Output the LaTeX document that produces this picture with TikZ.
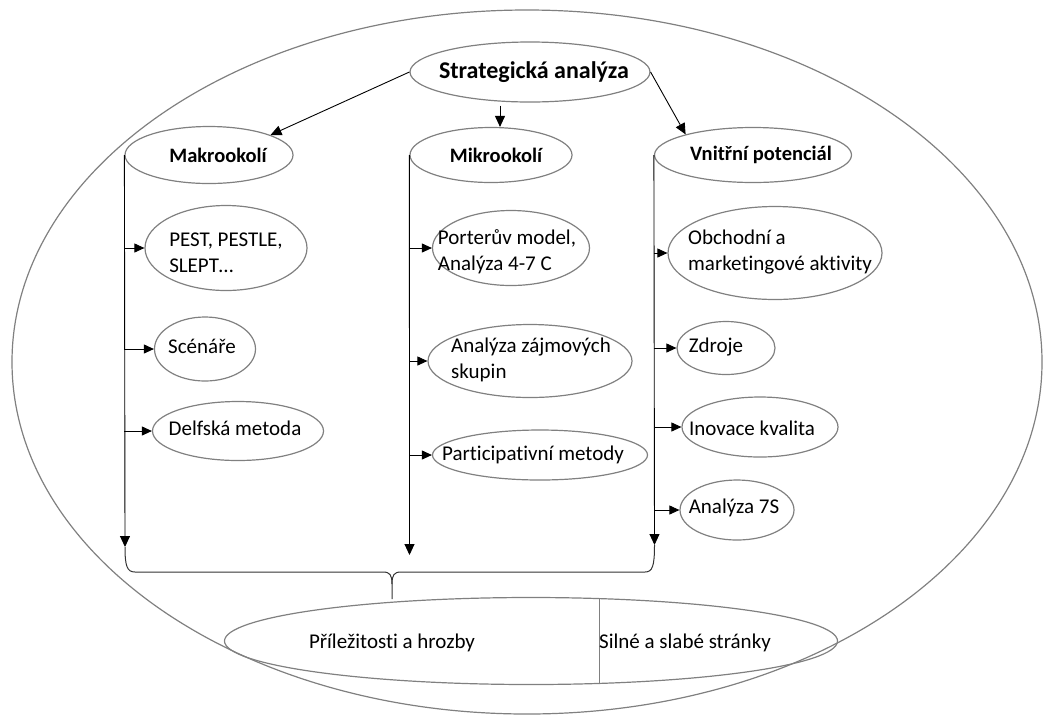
\documentclass[tikz,border=0pt]{standalone}
\usepackage{fontspec}
\setmainfont{Carlito}[Ligatures={NoCommon}]
\usetikzlibrary{shapes.geometric,arrows.meta}
\begin{document}
\begin{tikzpicture}[x=1pt,y=-1pt,
  shp/.style={ellipse, draw=black!50, line width=1.2pt, inner sep=0pt},
  txt/.style={inner sep=0pt, align=left, font=\fontsize{21}{26}\selectfont},
  hdt/.style={txt, font=\fontsize{20.5}{25}\selectfont\bfseries},
  arr/.style={draw=black, line width=0.9pt, -{Triangle[length=11pt,width=10pt]}},
  sarr/.style={draw=black, line width=0.9pt, -{Triangle[length=10pt,width=9pt]}},
  bracel/.style={draw=black!80, line width=1pt}
]
\useasboundingbox (0,0) rectangle (1043,716);
% outer ellipse
\node[shp, minimum width=1030pt, minimum height=704pt] (outer) at (527,362) {};
% top
\node[shp, minimum width=240pt, minimum height=60pt] (strat) at (530,72) {};
\node[txt, font=\fontsize{24}{29}\selectfont\bfseries] (stratt) at (534,72) {Strategická analýza};
% headers
\node[shp, minimum width=168pt, minimum height=57pt] (mak) at (209,155) {};
\node[hdt] (makt) at (218,155) {Makrookolí};
\node[shp, minimum width=162pt, minimum height=55pt] (mik) at (491,155) {};
\node[hdt] (mikt) at (496,155) {Mikrookolí};
\node[shp, minimum width=197pt, minimum height=55pt] (vnit) at (753,155) {};
\node[hdt] (vnitt) at (761,155) {Vnitřní potenciál};
% makro children
\node[shp, minimum width=162pt, minimum height=85pt] (pest) at (226,248) {};
\node[txt] (pestt) at (226,253) {PEST, PESTLE,\\SLEPT…};
\node[shp, minimum width=101pt, minimum height=64pt] (scen) at (205,349) {};
\node[txt] (scent) at (202,346) {Scénáře};
\node[shp, minimum width=171pt, minimum height=59pt] (delf) at (238,431) {};
\node[txt] (delft) at (235,428) {Delfská metoda};
% mikro children
\node[shp, minimum width=157pt, minimum height=75pt] (port) at (511,248) {};
\node[txt] (portt) at (507,252) {Porterův model,\\Analýza 4-7 C};
\node[shp, minimum width=204pt, minimum height=73pt] (anal) at (530,361) {};
\node[txt] (analt) at (531,360) {Analýza zájmových\\skupin};
\node[shp, minimum width=215pt, minimum height=50pt] (part) at (540,455) {};
\node[txt] (partt) at (533,455) {Participativní metody};
% vnitrni children
\node[shp, minimum width=214pt, minimum height=93pt] (obch) at (775,253) {};
\node[txt] (obcht) at (780,252) {Obchodní a\\marketingové aktivity};
\node[shp, minimum width=98pt, minimum height=53pt] (zdr) at (726,348) {};
\node[txt] (zdrt) at (716,347) {Zdroje};
\node[shp, minimum width=156pt, minimum height=60pt] (inov) at (760,427) {};
\node[txt] (inovt) at (752,428) {Inovace kvalita};
\node[shp, minimum width=114pt, minimum height=60pt] (a7s) at (737,510) {};
\node[txt] (a7st) at (734,508) {Analýza 7S};
% bottom
\node[shp, minimum width=613pt, minimum height=87pt] (bot) at (531,641) {};
\draw[draw=black!50, line width=1.2pt] (bot.32.8) -- (bot.-32.8);
\node[txt] (bott1) at (392,643) {Příležitosti a hrozby};
\node[txt] (bott2) at (685,643) {Silné a slabé stránky};
% top arrows
\draw[arr] (strat.west) -- (mak.18);
\draw[arr] ([xshift=-30pt,yshift=-3pt]strat.south) -- ([xshift=-30pt]strat.south |- mik.north);
\draw[arr] (strat.east) -- (vnit.163);
% vertical lines
\coordinate (makend) at (125,547);
\coordinate (mikend) at (409.5,555);
\coordinate (vnitend) at (654.5,545);
\draw[arr] (mak.west) -- (makend);
\draw[arr] (mik.west) -- (mikend);
\draw[arr] (vnit.west) -- (vnitend);
% child arrows
\draw[sarr] (mak.west |- pest.west) -- (pest.west);
\draw[sarr] (mak.west |- scen.west) -- (scen.west);
\draw[sarr] (mak.west |- delf.west) -- (delf.west);
\draw[sarr] (mik.west |- port.west) -- (port.west);
\draw[sarr] (mik.west |- anal.west) -- (anal.west);
\draw[sarr] (mik.west |- part.west) -- (part.west);
\draw[sarr] (vnit.west |- obch.west) -- (obch.west);
\draw[sarr] (vnit.west |- zdr.west) -- (zdr.west);
\draw[sarr] (vnit.west |- inov.west) -- (inov.west);
\draw[sarr] (vnit.west |- a7s.west) -- (a7s.west);
% brace
\coordinate (bracetip) at (392,599);
\draw[bracel] (makend) .. controls (125,566) and (127,572) .. (135,572) -- (383,572) .. controls (390,572) and (392,575) .. (392,584) -- (bracetip);
\draw[bracel] (vnitend) .. controls (654.5,566) and (652.5,572) .. (645,572) -- (401,572) .. controls (394,572) and (392,575) .. (392,584);
\end{tikzpicture}
\end{document}
